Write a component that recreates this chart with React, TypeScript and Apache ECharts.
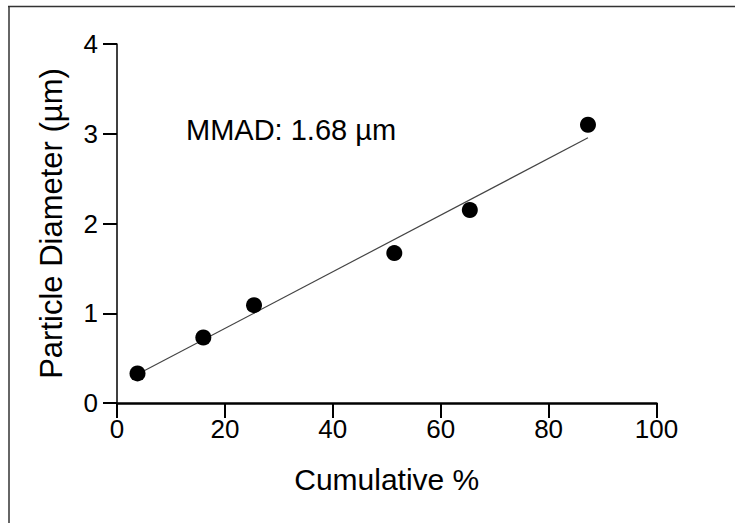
import React, { useEffect, useRef } from "react";
import * as echarts from "echarts";

// Data
const cumulativePct = [3.8, 16.0, 25.4, 51.4, 65.4, 87.3];
const particleDiameter = [0.33, 0.73, 1.09, 1.67, 2.15, 3.1];
const fitLineX = [3.8, 87.3];
const fitLineY = [0.32, 2.955];
const xTicks = [0, 20, 40, 60, 80, 100];
const yTicks = [0, 1, 2, 3, 4];
const annotation = "MMAD: 1.68 µm";
const xTitle = "Cumulative %";
const yTitle = "Particle Diameter (µm)";

const FONT = "Liberation Sans, Arial, Helvetica, sans-serif";

export default function App() {
  const ref = useRef<HTMLDivElement>(null);
  useEffect(() => {
    if (!ref.current) return;
    const chart = echarts.init(ref.current, undefined, { renderer: "svg" });
    chart.setOption({
      animation: false,
      backgroundColor: "#ffffff",
      grid: { left: 117, right: 78.5, top: 44, bottom: 120, containLabel: false },
      xAxis: {
        type: "value",
        min: xTicks[0],
        max: xTicks[xTicks.length - 1],
        interval: 20,
        name: xTitle,
        nameLocation: "middle",
        nameGap: 61,
        nameTextStyle: { fontFamily: FONT, fontSize: 30, color: "#000" },
        axisLine: { show: true, onZero: false, lineStyle: { color: "#000", width: 2.5 } },
        axisTick: { show: true, inside: false, length: 15, lineStyle: { color: "#000", width: 2 } },
        axisLabel: { margin: 13, fontFamily: FONT, fontSize: 26, color: "#000" },
        splitLine: { show: false },
      },
      yAxis: {
        type: "value",
        min: yTicks[0],
        max: yTicks[yTicks.length - 1],
        interval: 1,
        name: yTitle,
        nameLocation: "middle",
        nameGap: 50,
        nameRotate: 90,
        nameTextStyle: { fontFamily: FONT, fontSize: 31, color: "#000" },
        axisLine: { show: true, onZero: false, lineStyle: { color: "#000", width: 1.5 } },
        axisTick: { show: true, inside: false, length: 14, lineStyle: { color: "#000", width: 2 } },
        axisLabel: { margin: 19, fontFamily: FONT, fontSize: 26, color: "#000" },
        splitLine: { show: false },
      },
      series: [
        {
          type: "line",
          data: fitLineX.map((x, i) => [x, fitLineY[i]]),
          showSymbol: false,
          symbol: "none",
          lineStyle: { color: "#444", width: 1.2 },
          z: 1,
        },
        {
          type: "scatter",
          data: cumulativePct.map((x, i) => [x, particleDiameter[i]]),
          symbol: "circle",
          symbolSize: 16,
          itemStyle: { color: "#000", opacity: 1 },
          z: 2,
        },
      ],
      graphic: [
        {
          type: "line",
          shape: { x1: 8, y1: 6.5, x2: 735, y2: 6.5 },
          style: { stroke: "#333", lineWidth: 1.5 },
        },
        {
          type: "line",
          shape: { x1: 9, y1: 6, x2: 9, y2: 523 },
          style: { stroke: "#333", lineWidth: 1.5 },
        },
        {
          type: "text",
          x: 186,
          y: 130,
          style: {
            text: annotation,
            fontFamily: FONT,
            fontSize: 29,
            fill: "#000",
            verticalAlign: "middle",
            align: "left",
          },
        },
      ],
    });
    return () => chart.dispose();
  }, []);
  return (
    <div
      ref={ref}
      style={{ position: "fixed", left: 0, top: 0, width: 735, height: 523, background: "#fff" }}
    />
  );
}
